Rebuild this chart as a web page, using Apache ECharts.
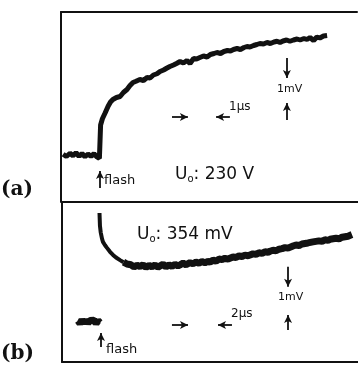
<!DOCTYPE html>
<html>
<head>
<meta charset="utf-8">
<script src="https://cdn.jsdelivr.net/npm/echarts@6/dist/echarts.min.js"></script>
<style>
    html, body {margin: 0; padding: 0; background: #fff;}
    #chart {width: 358px; height: 367px;}
</style>
</head>
<body>
<div id="chart"></div>
<script>
    // (a) trace, t in us (flash at 0), signal in mV
    var traceA = [
        [-1.23, 0.03], [-1.12, -0.06], [-1.0, 0.07], [-0.9, -0.03], [-0.8, 0.09], [-0.7, -0.05], [-0.6, 0.06],
        [-0.5, -0.07], [-0.4, 0.04], [-0.3, -0.05], [-0.2, 0.05], [-0.1, -0.08], [-0.02, -0.14],
        [0.02, 1.2], [0.08, 1.45], [0.17, 1.68], [0.27, 1.95], [0.35, 2.12], [0.43, 2.22], [0.55, 2.3],
        [0.67, 2.34], [0.78, 2.5], [0.9, 2.62], [1.0, 2.78], [1.1, 2.9], [1.2, 2.95], [1.33, 3.02],
        [1.45, 2.98], [1.57, 3.1], [1.67, 3.08], [1.78, 3.2], [1.9, 3.25], [2.0, 3.34], [2.12, 3.4],
        [2.22, 3.47], [2.33, 3.54], [2.45, 3.6], [2.55, 3.66], [2.67, 3.74], [2.78, 3.68], [2.9, 3.78],
        [3.0, 3.66], [3.12, 3.86], [3.22, 3.84], [3.33, 3.9], [3.45, 3.96], [3.57, 3.92], [3.68, 4.02],
        [3.8, 4.06], [3.9, 4.1], [4.02, 4.06], [4.13, 4.14], [4.25, 4.18], [4.35, 4.16], [4.45, 4.22],
        [4.57, 4.26], [4.68, 4.22], [4.8, 4.3], [4.9, 4.34], [5.0, 4.32], [5.12, 4.38], [5.23, 4.42],
        [5.33, 4.46], [5.45, 4.44], [5.57, 4.5], [5.68, 4.46], [5.8, 4.52], [5.9, 4.55], [6.0, 4.5],
        [6.1, 4.56], [6.22, 4.6], [6.33, 4.55], [6.45, 4.6], [6.57, 4.64], [6.67, 4.6], [6.8, 4.66],
        [6.9, 4.62], [7.0, 4.7], [7.12, 4.58], [7.23, 4.72], [7.33, 4.68], [7.45, 4.76], [7.57, 4.78]
    ];

    // (b) traces
    var preB = [
        [-1.53, 0.05], [-1.4, -0.06], [-1.27, 0.08], [-1.13, -0.04], [-1.0, 0.07], [-0.87, -0.05],
        [-0.73, 0.06], [-0.6, 0.0], [-0.47, 0.07], [-0.33, -0.06], [-0.2, 0.05], [-0.07, -0.03]
    ];
    var decayB = [
        [-0.1, 4.19], [-0.07, 3.7], [-0.02, 3.45], [0.07, 3.2], [0.13, 3.08], [0.27, 2.95], [0.4, 2.85],
        [0.6, 2.7], [0.8, 2.58], [1.0, 2.48], [1.27, 2.38], [1.5, 2.3]
    ];
    var slowB = [
        [1.5, 2.3], [1.73, 2.23], [2.0, 2.2], [2.2, 2.12], [2.4, 2.18], [2.6, 2.13], [2.8, 2.2], [3.0, 2.1],
        [3.2, 2.18], [3.4, 2.12], [3.6, 2.19], [3.8, 2.11], [3.93, 2.17], [4.13, 2.22], [4.33, 2.12],
        [4.53, 2.2], [4.73, 2.14], [4.93, 2.22], [5.13, 2.16], [5.27, 2.2], [5.47, 2.26], [5.67, 2.2],
        [5.93, 2.28], [6.13, 2.24], [6.33, 2.3], [6.53, 2.26], [6.73, 2.32], [6.93, 2.28], [7.13, 2.33],
        [7.27, 2.3], [7.47, 2.38], [7.67, 2.34], [7.87, 2.42], [8.07, 2.4], [8.27, 2.45], [8.47, 2.42],
        [8.6, 2.47], [8.8, 2.5], [9.0, 2.48], [9.2, 2.54], [9.4, 2.52], [9.6, 2.57], [9.8, 2.55],
        [9.93, 2.6], [10.13, 2.62], [10.33, 2.6], [10.53, 2.66], [10.73, 2.64], [10.93, 2.7], [11.13, 2.68],
        [11.27, 2.72], [11.47, 2.76], [11.67, 2.74], [11.87, 2.8], [12.07, 2.82], [12.27, 2.86], [12.47, 2.84],
        [12.6, 2.9], [12.8, 2.92], [13.0, 2.96], [13.2, 2.94], [13.4, 3.0], [13.6, 3.02], [13.8, 3.04],
        [13.93, 3.06], [14.13, 3.08], [14.33, 3.1], [14.53, 3.12], [14.73, 3.1], [14.93, 3.16], [15.13, 3.14],
        [15.27, 3.18], [15.47, 3.2], [15.67, 3.22], [15.87, 3.2], [16.07, 3.26], [16.27, 3.28], [16.47, 3.3],
        [16.73, 3.36]
    ];

    // scale markers: [time, mV]
    var scaleA = {hLeft: [[2.4, 1.52], [2.93, 1.52]], hRight: [[4.33, 1.52], [3.87, 1.52]],
        vTop: [[6.23, 3.88], [6.23, 3.08]], vBot: [[6.23, 1.4], [6.23, 2.08]], flash: [[0, -1.32], [0, -0.64]]};
    var scaleB = {hLeft: [[4.73, -0.12], [5.8, -0.12]], hRight: [[8.73, -0.12], [7.8, -0.12]],
        vTop: [[12.47, 2.12], [12.47, 1.35]], vBot: [[12.47, -0.31], [12.47, 0.27]], flash: [[0, -0.96], [0, -0.42]]};

    var ink = '#111';

    function arrows(s) {
        var list = [];
        ['hLeft', 'hRight', 'vTop', 'vBot', 'flash'].forEach(function (k) {
            list.push([{coord: s[k][0]}, {coord: s[k][1]}]);
        });
        return {
            silent: true,
            symbol: ['none', 'arrow'],
            symbolSize: [6, 8],
            label: {show: false},
            lineStyle: {color: ink, width: 1.8, type: 'solid'},
            data: list
        };
    }

    var chart = echarts.init(document.getElementById('chart'));
    var frameLine = {show: true, onZero: false, lineStyle: {color: ink, width: 2}};
    var hidden = {axisTick: {show: false}, axisLabel: {show: false}, splitLine: {show: false}};
    var sans = '"DejaVu Sans"';

    chart.setOption({
        animation: false,
        backgroundColor: '#fff',
        grid: [
            {left: 61, top: 12, width: 296, height: 190},
            {left: 62, top: 202, width: 296, height: 160}
        ],
        xAxis: [
            Object.assign({type: 'value', gridIndex: 0, position: 'top', min: -1.3, max: 8.567, axisLine: frameLine}, hidden),
            Object.assign({type: 'value', gridIndex: 1, position: 'top', min: -2.6, max: 17.133, axisLine: frameLine}, hidden),
            Object.assign({type: 'value', gridIndex: 1, position: 'bottom', min: -2.6, max: 17.133, axisLine: frameLine}, hidden)
        ],
        yAxis: [
            Object.assign({type: 'value', gridIndex: 0, min: -1.88, max: 5.72, axisLine: frameLine}, hidden),
            Object.assign({type: 'value', gridIndex: 1, min: -1.54, max: 4.615, axisLine: frameLine}, hidden)
        ],
        series: [
            {
                type: 'line', xAxisIndex: 0, yAxisIndex: 0, data: traceA, showSymbol: false,
                lineStyle: {color: ink, width: 5}, markLine: arrows(scaleA)
            },
            {
                type: 'line', xAxisIndex: 1, yAxisIndex: 1, data: preB, showSymbol: false,
                lineStyle: {color: ink, width: 7}, markLine: arrows(scaleB)
            },
            {
                type: 'line', xAxisIndex: 1, yAxisIndex: 1, data: decayB, showSymbol: false,
                lineStyle: {color: ink, width: 4}
            },
            {
                type: 'line', xAxisIndex: 1, yAxisIndex: 1, data: slowB, showSymbol: false,
                lineStyle: {color: ink, width: 7}
            }
        ],
        graphic: [
            {type: 'text', left: 1, top: 180, style: {text: '(a)', font: 'bold 20px "DejaVu Serif"', fill: ink}},
            {type: 'text', left: 1, top: 344, style: {text: '(b)', font: 'bold 20px "DejaVu Serif"', fill: ink}},
            {type: 'text', left: 104, top: 174, style: {text: 'flash', font: '13px ' + sans, fill: ink}},
            {type: 'text', left: 106, top: 343, style: {text: 'flash', font: '13px ' + sans, fill: ink}},
            {type: 'text', left: 229, top: 101, style: {text: '1\u03bcs', font: '12px ' + sans, fill: ink}},
            {type: 'text', left: 231, top: 308, style: {text: '2\u03bcs', font: '12px ' + sans, fill: ink}},
            {type: 'text', left: 277, top: 84, style: {text: '1mV', font: '11px ' + sans, fill: ink}},
            {type: 'text', left: 278, top: 292, style: {text: '1mV', font: '11px ' + sans, fill: ink}},
            {
                type: 'text', left: 175, top: 166,
                style: {
                    text: 'U{s|o}: 230 V', font: '17px ' + sans, fill: ink,
                    rich: {s: {fontSize: 10, fontFamily: 'DejaVu Sans', padding: [9, 0, 0, 0], fill: ink}}
                }
            },
            {
                type: 'text', left: 137, top: 226,
                style: {
                    text: 'U{s|o}: 354 mV', font: '17px ' + sans, fill: ink,
                    rich: {s: {fontSize: 10, fontFamily: 'DejaVu Sans', padding: [9, 0, 0, 0], fill: ink}}
                }
            }
        ]
    });
</script>
</body>
</html>
